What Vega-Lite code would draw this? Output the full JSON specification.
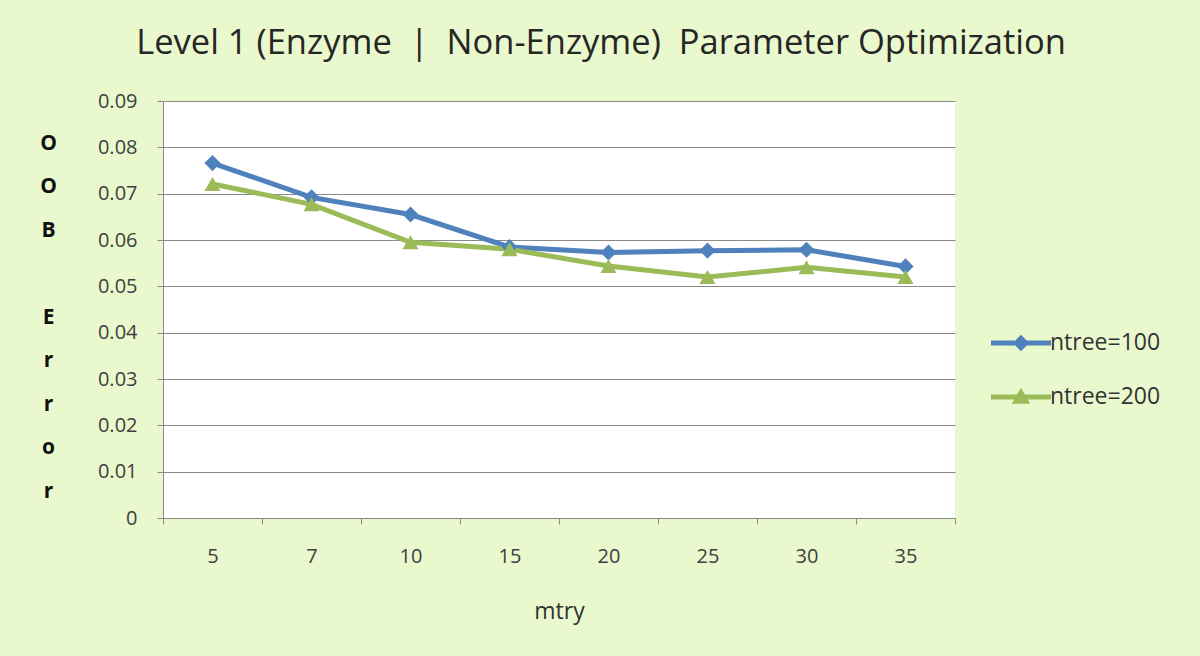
{
  "$schema": "https://vega.github.io/schema/vega-lite/v6.json",
  "autosize": "none",
  "width": 792,
  "height": 417,
  "padding": {"left": 163, "top": 101, "right": 245, "bottom": 138},
  "background": "#eaf8cd",
  "title": {
    "text": "Level 1 (Enzyme\u00a0\u00a0|\u00a0\u00a0Non-Enzyme)\u00a0\u00a0Parameter Optimization",
    "anchor": "middle",
    "frame": "group",
    "dx": 42,
    "offset": 30,
    "fontSize": 34.5,
    "font": "Open Sans",
    "fontWeight": "normal",
    "color": "#262626"
  },
  "config": {
    "view": {"fill": "white", "stroke": null},
    "font": "Open Sans"
  },
  "data": {
    "values": [
      {"mtry": 5, "series": "ntree=100", "oob": 0.0766},
      {"mtry": 7, "series": "ntree=100", "oob": 0.0692},
      {"mtry": 10, "series": "ntree=100", "oob": 0.0655},
      {"mtry": 15, "series": "ntree=100", "oob": 0.0585},
      {"mtry": 20, "series": "ntree=100", "oob": 0.0573},
      {"mtry": 25, "series": "ntree=100", "oob": 0.0577},
      {"mtry": 30, "series": "ntree=100", "oob": 0.0579},
      {"mtry": 35, "series": "ntree=100", "oob": 0.0543},
      {"mtry": 5, "series": "ntree=200", "oob": 0.0721},
      {"mtry": 7, "series": "ntree=200", "oob": 0.0677},
      {"mtry": 10, "series": "ntree=200", "oob": 0.0595},
      {"mtry": 15, "series": "ntree=200", "oob": 0.0580},
      {"mtry": 20, "series": "ntree=200", "oob": 0.0544},
      {"mtry": 25, "series": "ntree=200", "oob": 0.0520},
      {"mtry": 30, "series": "ntree=200", "oob": 0.0541},
      {"mtry": 35, "series": "ntree=200", "oob": 0.0520}
    ]
  },
  "encoding": {
    "x": {
      "field": "mtry",
      "type": "ordinal",
      "bandPosition": 0.5,
      "scale": {"type": "band", "paddingInner": 0, "paddingOuter": 0},
      "axis": {
        "title": "mtry",
        "labelAngle": 0,
        "tickBand": "extent",
        "domainColor": "#888888",
        "tickColor": "#888888",
        "tickSize": 6,
        "labelFontSize": 20,
        "labelColor": "#404040",
        "labelPadding": 22,
        "titleFontSize": 23,
        "titleFontWeight": "normal",
        "titleColor": "#333333",
        "titlePadding": 34,
        "grid": false
      }
    },
    "y": {
      "field": "oob",
      "type": "quantitative",
      "scale": {"domain": [0, 0.09], "nice": false, "zero": true},
      "axis": {
        "values": [0, 0.01, 0.02, 0.03, 0.04, 0.05, 0.06, 0.07, 0.08, 0.09],
        "format": "~g",
        "title": ["O", "O", "B", "\u200b", "E", "r", "r", "o", "r"],
        "titleAngle": 0,
        "titleX": -115,
        "titleY": 31,
        "titleAlign": "center",
        "titleBaseline": "top",
        "titleLineHeight": 43.5,
        "titleFontSize": 21,
        "titleFontWeight": "bold",
        "titleColor": "#111111",
        "domainColor": "#888888",
        "tickColor": "#888888",
        "tickSize": 6,
        "gridColor": "#8a8a8a",
        "gridWidth": 1,
        "labelFontSize": 20,
        "labelColor": "#404040",
        "labelPadding": 20
      }
    },
    "color": {
      "field": "series",
      "type": "nominal",
      "scale": {"domain": ["ntree=100", "ntree=200"], "range": ["#4f81bd", "#9bbb59"]},
      "legend": {
        "title": null,
        "orient": "none",
        "legendX": 843,
        "legendY": 227,
        "padding": 0,
        "labelFontSize": 23,
        "labelColor": "#333333",
        "labelOffset": 14,
        "symbolSize": 900,
        "rowPadding": 27,
        "encode": {
          "symbols": {
            "update": {
              "shape": {"signal": "datum.value === 'ntree=100' ? 'M-2,-0.17L2,-0.17L2,0.17L-2,0.17Z M0,-0.55L0.55,0L0,0.55L-0.55,0Z' : 'M-2,-0.17L2,-0.17L2,0.17L-2,0.17Z M0,-0.62L0.62,0.45L-0.62,0.45Z'"},
              "fill": {"signal": "datum.value === 'ntree=100' ? '#4f81bd' : '#9bbb59'"},
              "fillOpacity": {"value": 1},
              "strokeWidth": {"value": 0},
              "opacity": {"value": 1}
            }
          }
        }
      }
    }
  },
  "layer": [
    {
      "mark": {"type": "line", "strokeWidth": 5}
    },
    {
      "transform": [{"filter": "datum.series === 'ntree=100'"}],
      "mark": {"type": "point", "filled": true, "opacity": 1, "size": 260, "shape": "diamond"}
    },
    {
      "transform": [{"filter": "datum.series === 'ntree=200'"}],
      "mark": {"type": "point", "filled": true, "opacity": 1, "size": 260, "shape": "triangle-up"}
    }
  ]
}
